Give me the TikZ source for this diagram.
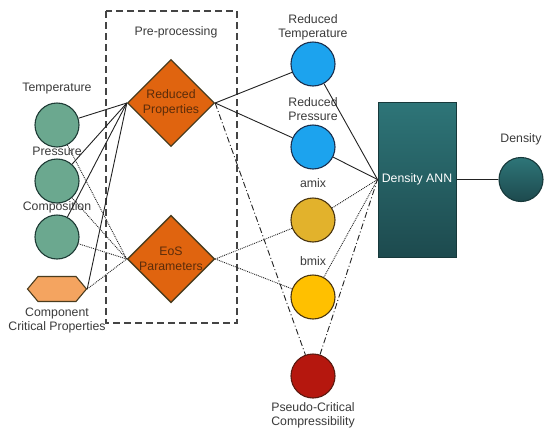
\documentclass[tikz,border=0pt]{standalone}
\usepackage{fontspec}
\setmainfont{Liberation Sans}
\usetikzlibrary{shapes.geometric,shapes.symbols}
\definecolor{txt}{HTML}{3A3A3A}
\definecolor{lineclr}{HTML}{222222}
\definecolor{greenfill}{HTML}{6BA88F}
\definecolor{greenedge}{HTML}{1E3B35}
\definecolor{orangefill}{HTML}{E0640F}
\definecolor{orangeedge}{HTML}{4A3C1E}
\definecolor{orangetxt}{HTML}{5B2C0A}
\definecolor{hexfill}{HTML}{F4A460}
\definecolor{bluefill}{HTML}{1CA3EE}
\definecolor{blueedge}{HTML}{1A2F4E}
\definecolor{amixfill}{HTML}{E2B22C}
\definecolor{bmixfill}{HTML}{FFC000}
\definecolor{yellowedge}{HTML}{4A3510}
\definecolor{redfill}{HTML}{B5170E}
\definecolor{rededge}{HTML}{5A1A10}
\definecolor{tealtop}{HTML}{2E7578}
\definecolor{tealbot}{HTML}{1D4A4E}
\definecolor{tealedge}{HTML}{17393B}
\definecolor{boxclr}{HTML}{444444}
\begin{document}
\begin{tikzpicture}[x=1pt,y=-1pt,
  font=\fontsize{12.3}{14}\selectfont, text=txt,
  lbl/.style={inner sep=0pt, align=center},
  circ/.style={circle, minimum size=44pt, inner sep=0pt, line width=1.1pt},
  dia/.style={diamond, aspect=1, minimum width=87pt, minimum height=87pt, inner sep=0pt,
    fill=orangefill, draw=orangeedge, line width=1.3pt, text=orangetxt, align=center,
    font=\fontsize{12.3}{15}\selectfont},
  solidc/.style={draw=lineclr, line width=0.9pt},
  dotc/.style={draw=lineclr, line width=0.9pt, densely dotted},
  dashdotc/.style={draw=lineclr, line width=0.9pt, dash pattern=on 6pt off 2.5pt on 1pt off 2.5pt},
  frame/.style={draw=boxclr, line width=1.4pt, dash pattern=on 7pt off 4pt}
]
\useasboundingbox (0,0) rectangle (550,437);

% pre-processing frame
\draw[frame] (106,11) rectangle (237,323);
\node[lbl] (pre) at (176,32) {Pre-processing};

% left inputs
\node[circ, fill=greenfill, draw=greenedge] (T) at (57,125) {};
\node[circ, fill=greenfill, draw=greenedge] (P) at (57,181) {};
\node[circ, fill=greenfill, draw=greenedge] (C) at (57,237) {};
\node[signal, signal to=east and west, signal pointer angle=100,
  minimum width=59pt, minimum height=25pt, inner sep=0pt,
  fill=hexfill, draw=orangeedge, line width=1.1pt] (CCP) at (57,289) {};
\node[lbl] (Tl) at (57,89) {Temperature};
\node[lbl] (Pl) at (57,151) {Pressure};
\node[lbl] (Cl) at (57,207) {Composition};
\node[lbl] (CCPl) at (57,320) {Component\\Critical Properties};

% diamonds
\node[dia] (RPd) at (171,103) {Reduced\\Properties};
\node[dia] (EoS) at (171,259) {EoS\\Parameters};

% right features
\node[circ, fill=bluefill, draw=blueedge] (RT) at (313,64) {};
\node[circ, fill=bluefill, draw=blueedge] (RPr) at (313,147) {};
\node[circ, fill=amixfill, draw=yellowedge] (AM) at (313,220) {};
\node[circ, fill=bmixfill, draw=yellowedge] (BM) at (313,297) {};
\node[circ, fill=redfill, draw=rededge] (PC) at (313,376) {};
\node[lbl] (RTl) at (313,27) {Reduced\\Temperature};
\node[lbl] (RPrl) at (313,109) {Reduced\\Pressure};
\node[lbl] (AMl) at (313,183) {amix};
\node[lbl] (BMl) at (313,261) {bmix};
\node[lbl] (PCl) at (313,415) {Pseudo-Critical\\Compressibility};

% ANN and output
\node[rectangle, minimum width=78pt, minimum height=155pt, inner sep=0pt,
  top color=tealtop, bottom color=tealbot, draw=tealedge, line width=1pt,
  text=white] (ANN) at (417,179.5) {Density ANN};
\node[circ, top color=tealtop, bottom color=tealbot, draw=tealedge] (D) at (521,179.5) {};
\node[lbl] (Dl) at (521,139) {Density};

% inputs -> diamonds
\draw[solidc] (T) -- (RPd.west);
\draw[solidc] (P) -- (RPd.west);
\draw[solidc] (C) -- (RPd.west);
\draw[solidc] (CCP.east) -- (RPd.west);
\draw[dotc] (T) -- (EoS.west);
\draw[dotc] (P) -- (EoS.west);
\draw[dotc] (C) -- (EoS.west);
\draw[dotc] (CCP.east) -- (EoS.west);

% diamonds -> features
\draw[solidc] (RPd.east) -- (RT);
\draw[solidc] (RPd.east) -- (RPr);
\draw[dashdotc] (RPd.east) -- (PC);
\draw[dotc] (EoS.east) -- (AM);
\draw[dotc] (EoS.east) -- (BM);

% features -> ANN
\draw[solidc] (RT) -- (ANN.west);
\draw[solidc] (RPr) -- (ANN.west);
\draw[dotc] (AM) -- (ANN.west);
\draw[dotc] (BM) -- (ANN.west);
\draw[dashdotc] (PC) -- (ANN.west);

% ANN -> output
\draw[solidc] (ANN.east) -- (D);
\end{tikzpicture}
\end{document}
